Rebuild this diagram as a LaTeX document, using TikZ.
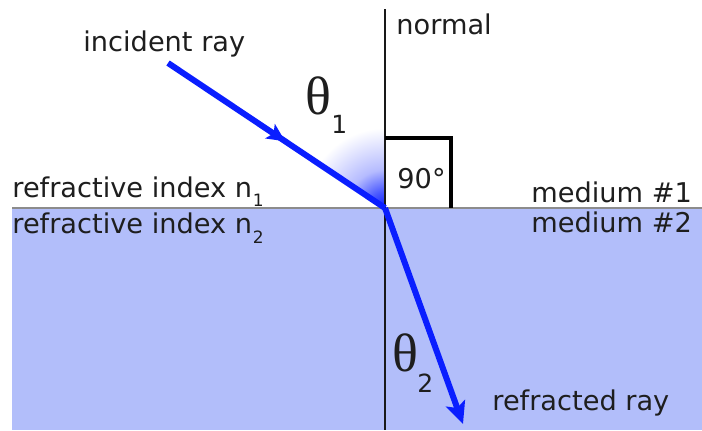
\documentclass[tikz,border=0pt]{standalone}
\usepackage{fontspec}
\setmainfont{DejaVu Sans}
\newfontfamily\thetafont{Liberation Serif}
\usetikzlibrary{arrows.meta,decorations.markings}
\definecolor{rayblue}{RGB}{10,30,255}
\definecolor{mediumblue}{RGB}{178,190,250}
\definecolor{txt}{RGB}{30,30,30}
\pgfdeclareradialshading{rayglow}{\pgfpoint{0bp}{0bp}}{color(0bp)=(rayblue); color(5bp)=(rayblue!75); color(12bp)=(rayblue!30); color(25bp)=(white); color(50bp)=(white)}
\begin{document}
\begin{tikzpicture}[x=0.5pt,y=-0.5pt,
  lbl/.style={font=\fontsize{13.6}{16}\selectfont, inner sep=0pt, anchor=base west, text=txt},
  subs/.style={font=\fontsize{8.5}{10}\selectfont, inner sep=0pt, anchor=base west, text=txt},
  thetalbl/.style={font=\thetafont\fontsize{27}{30}\selectfont, inner sep=0pt, anchor=base west, text=txt},
  thetasub/.style={font=\fontsize{12.5}{15}\selectfont, inner sep=0pt, anchor=base west, text=txt},
  ray/.style={line width=3pt, draw=rayblue},
]
\useasboundingbox (0,0) rectangle (702,430);
% medium 2
\fill[mediumblue] (12,208) rectangle (702,430);
% glow
\begin{scope}
  \clip (385,208) -- (280,138) -- (385,110) -- cycle;
  \shade[shading=rayglow] (385,208) circle (80);
\end{scope}
% interface and normal
\coordinate (L) at (12,208);
\coordinate (R) at (702,208);
\coordinate (Ntop) at (385,9);
\coordinate (Nbot) at (385,430);
\coordinate (O) at (385,208);
\draw[line width=1pt, draw=black!45] (L) -- (R);
\draw[line width=1pt, draw=black!90] (Ntop) -- (Nbot);
% right angle box
\coordinate (B1) at (385,138);
\coordinate (B2) at (451,138);
\coordinate (B3) at (451,208);
\draw[line width=1.6pt, line join=miter] (B1) -- (B2) -- (B3);
% rays
\coordinate (S) at (168,63);
\coordinate (T) at (463,424);
\draw[ray, decoration={markings, mark=at position 0.54 with {\arrow{Stealth[length=9pt,width=8.5pt,inset=2pt]}}}, postaction={decorate}] (S) -- (O);
\draw[ray, -{Stealth[length=11pt,width=10pt,inset=2.5pt]}] (O) -- (T);
% labels
\node[lbl] (inc) at (83,51) {incident ray};
\node[lbl] (nor) at (396,34) {normal};
\node[lbl] (n1) at (12,197) {refractive index n};
\node[subs] (n1s) at (n1.base east) [yshift=-4.5pt] {1};
\node[lbl] (n2) at (12,233) {refractive index n};
\node[subs] (n2s) at (n2.base east) [yshift=-5pt] {2};
\node[lbl] (m1) at (531,202) {medium \#1};
\node[lbl] (m2) at (531,232) {medium \#2};
\node[lbl] (ninety) at (397,188) {90°};
\node[lbl] (refr) at (492,410) {refracted ray};
\node[thetalbl] (th1) at (305,114) {θ};
\node[thetasub] (th1s) at (331,133) {1};
\node[thetalbl] (th2) at (392,371) {θ};
\node[thetasub] (th2s) at (417,392) {2};
\end{tikzpicture}
\end{document}
